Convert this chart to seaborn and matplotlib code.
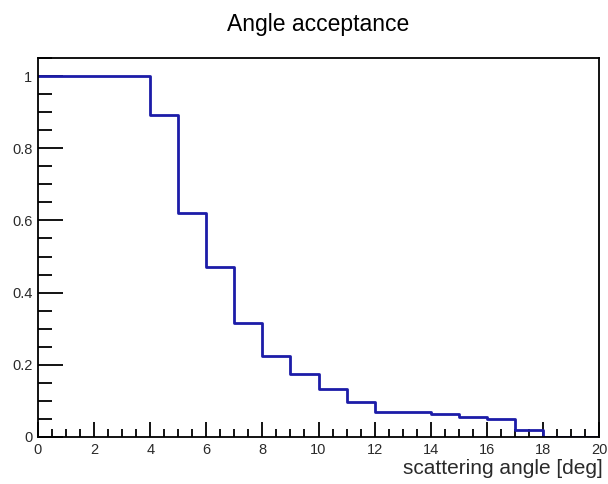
import numpy as np
import pandas as pd
import matplotlib
matplotlib.use("Agg")
import matplotlib.pyplot as plt
import seaborn as sns
from matplotlib.ticker import MultipleLocator

# Data: acceptance per 1-degree bin, bins 0..20 deg
bin_edges = list(range(0, 21))
acceptance = [1.0, 1.0, 1.0, 1.0, 0.892, 0.620, 0.470, 0.316, 0.224, 0.175,
              0.133, 0.097, 0.068, 0.068, 0.063, 0.055, 0.049, 0.019, 0.0, 0.0]
x_ticks = list(range(0, 21, 2))
y_ticks = [0, 0.2, 0.4, 0.6, 0.8, 1]
y_tick_labels = ["0", "0.2", "0.4", "0.6", "0.8", "1"]

sns.set_style("white")
plt.rcParams['font.family'] = ['Liberation Sans', 'DejaVu Sans']

fig = plt.figure(figsize=(6.08, 4.84), dpi=100)
ax = fig.add_axes([38/608, 1-437/484, (599-38)/608, (437-58)/484])

df = pd.DataFrame({"angle": bin_edges, "acc": acceptance + [acceptance[-1]]})
sns.lineplot(data=df, x="angle", y="acc", drawstyle="steps-post",
             color="#1c1ca8", linewidth=2.0, estimator=None, ax=ax,
             zorder=2)

ax.set_xlim(0, 20)
ax.set_ylim(0, 1.05)
ax.set_xticks(x_ticks)
ax.set_xticklabels([str(t) for t in x_ticks])
ax.set_yticks(y_ticks)
ax.set_yticklabels(y_tick_labels)
ax.xaxis.set_minor_locator(MultipleLocator(0.5))
ax.yaxis.set_minor_locator(MultipleLocator(0.05))
ax.tick_params(bottom=True, left=True, top=False, right=False, which="both")
ax.tick_params(axis="x", which="major", direction="in", length=11, width=1.3,
               labelsize=10.5, pad=4, color="black", labelcolor="#2a2a2a")
ax.tick_params(axis="x", which="minor", direction="in", length=6, width=1.3,
               color="black")
ax.tick_params(axis="y", which="major", direction="in", length=18, width=1.3,
               labelsize=10.5, pad=4, color="black", labelcolor="#2a2a2a")
ax.tick_params(axis="y", which="minor", direction="in", length=10, width=1.3,
               color="black")
for s in ax.spines.values():
    s.set_linewidth(1.3)
    s.set_color("black")
    s.set_zorder(3)

ax.set_xlabel("")
ax.set_ylabel("")
fig.text(603/608, 1-469/484, "scattering angle [deg]", ha="right", va="center",
         fontsize=15, color="#2a2a2a")
fig.text(318/608, 1-24/484, "Angle acceptance", ha="center", va="center",
         fontsize=16.5, color="black")

fig.savefig("out.png", dpi=100)
